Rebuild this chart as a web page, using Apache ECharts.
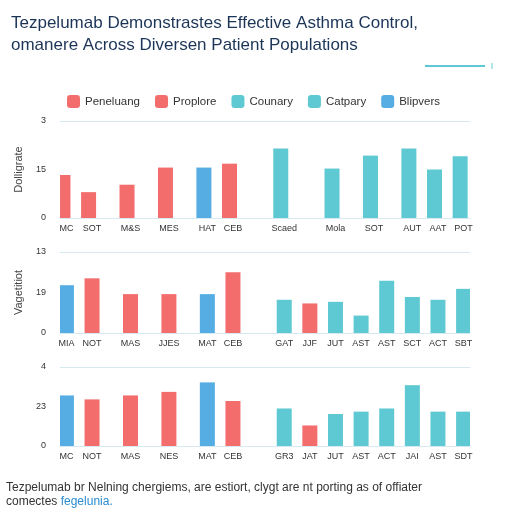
<!DOCTYPE html>
<html>
<head>
<meta charset="utf-8">
<script src="https://cdn.jsdelivr.net/npm/echarts@6/dist/echarts.min.js"></script>
<style>
  body { margin: 0; background: #fff; }
  #chart { width: 512px; height: 512px; }
</style>
</head>
<body>
<div id="chart"></div>
<script>
// half-slot positions along a 32 slot category axis
const slotCount = 32;

const top_slots = [0, 2, 5, 8, 11, 13, 17, 21, 24, 27, 29, 31];
const top_labels = ['MC', 'SOT', 'M&S', 'MES', 'HAT', 'CEB', 'Scaed', 'Mola', 'SOT', 'AUT', 'AAT', 'POT'];
const top_values = [1.33, 0.80, 1.03, 1.56, 1.56, 1.68, 2.15, 1.53, 1.93, 2.15, 1.50, 1.91];
const top_colors = ['r', 'r', 'r', 'r', 'b', 'r', 't', 't', 't', 't', 't', 't'];
const top_ticks = ['0', '15', '3'];

const mid_slots = [0, 2, 5, 8, 11, 13, 17, 19, 21, 23, 25, 27, 29, 31];
const mid_labels = ['MIA', 'NOT', 'MAS', 'JJES', 'MAT', 'CEB', 'GAT', 'JJF', 'JUT', 'AST', 'AST', 'SCT', 'ACT', 'SBT'];
const mid_values = [1.18, 1.35, 0.96, 0.96, 0.96, 1.50, 0.82, 0.73, 0.77, 0.43, 1.29, 0.89, 0.82, 1.09];
const mid_colors = ['b', 'r', 'r', 'r', 'b', 'r', 't', 'r', 't', 't', 't', 't', 't', 't'];
const mid_ticks = ['0', '19', '13'];

const bot_slots = mid_slots;
const bot_labels = ['MC', 'NOT', 'MAS', 'NES', 'MAT', 'CEB', 'GR3', 'JAT', 'JUT', 'AST', 'ACT', 'JAI', 'AST', 'SDT'];
const bot_values = [1.28, 1.18, 1.28, 1.37, 1.61, 1.14, 0.95, 0.52, 0.81, 0.87, 0.95, 1.54, 0.87, 0.87];
const bot_colors = ['b', 'r', 'r', 'r', 'b', 'r', 't', 'r', 't', 't', 't', 't', 't', 't'];
const bot_ticks = ['0', '23', '4'];

const legendNames = ['Peneluang', 'Proplore', 'Counary', 'Catpary', 'Blipvers'];
const legendColors = ['r', 'r', 't', 't', 'b'];

const palette = { r: '#f36d6d', t: '#5ec9d2', b: '#55ade4' };

function buildCats(slots, labels) {
  let cats = new Array(slotCount).fill('');
  slots.forEach((s, i) => { cats[s] = labels[i]; });
  return cats;
}
function buildData(slots, values, colors) {
  let d = new Array(slotCount).fill('-');
  slots.forEach((s, i) => {
    d[s] = { value: values[i], itemStyle: { color: palette[colors[i]] } };
  });
  return d;
}

const panels = [
  { top: 121, bottom: 512 - 218, max: 3, interval: 1.5, ticks: top_ticks, name: 'Dolligrate',
    cats: buildCats(top_slots, top_labels), data: buildData(top_slots, top_values, top_colors) },
  { top: 252, bottom: 512 - 333, max: 2, interval: 1, ticks: mid_ticks, name: 'Vagetitiot',
    cats: buildCats(mid_slots, mid_labels), data: buildData(mid_slots, mid_values, mid_colors) },
  { top: 367, bottom: 512 - 446, max: 2, interval: 1, ticks: bot_ticks, name: '',
    cats: buildCats(bot_slots, bot_labels), data: buildData(bot_slots, bot_values, bot_colors) }
];

var chart = echarts.init(document.getElementById('chart'));

let grids = [], xAxes = [], yAxes = [], series = [];
panels.forEach((p, i) => {
  grids.push({ left: 60, right: 42, top: p.top, bottom: p.bottom });
  xAxes.push({
    type: 'category', gridIndex: i, data: p.cats,
    axisTick: { show: false },
    axisLine: { lineStyle: { color: '#d6e8f0' } },
    axisLabel: { interval: 0, color: '#333', fontSize: 9, margin: 6 }
  });
  yAxes.push({
    type: 'value', gridIndex: i, min: 0, max: p.max, interval: p.interval,
    name: p.name, nameLocation: 'middle', nameGap: 36, nameRotate: 90,
    nameTextStyle: { color: '#444', fontSize: 11 },
    axisLabel: { color: '#333', fontSize: 9, margin: 14, formatter: (v) => p.ticks[Math.round(v / p.interval)] },
    splitLine: { lineStyle: { color: ['#d6e8f0', 'transparent', '#d6e8f0'] } }
  });
  series.push({
    type: 'bar', xAxisIndex: i, yAxisIndex: i, barWidth: 15,
    data: p.data
  });
});

legendNames.forEach((n, i) => {
  series.push({ type: 'bar', name: n, data: [], itemStyle: { color: palette[legendColors[i]] } });
});

var option = {
  animation: false,
  title: {
    text: 'Tezpelumab Demonstrastes Effective Asthma Control,\nomanere Across Diversen Patient Populations',
    left: 6, top: 7,
    textStyle: { color: '#1c3557', fontSize: 17, fontWeight: 'normal', lineHeight: 22 }
  },
  legend: {
    data: legendNames, top: 90, left: 62,
    itemWidth: 13, itemHeight: 13, itemGap: 15,
    textStyle: { color: '#333', fontSize: 11.5 }
  },
  graphic: [
    { type: 'line', shape: { x1: 425, y1: 66, x2: 485, y2: 66 }, style: { stroke: '#5ec9d2', lineWidth: 2 } },
    { type: 'line', shape: { x1: 492, y1: 63, x2: 492, y2: 69 }, style: { stroke: '#5ec9d2', lineWidth: 1 } },
    { type: 'text', left: 6, top: 481, style: {
      text: 'Tezpelumab br Nelning chergiems, are estiort, clygt are nt porting as of offiater\n{a|comectes} {b|fegelunia.}',
      fontSize: 12, lineHeight: 14, fill: '#333',
      rich: { a: { fontSize: 12, fill: '#333' }, b: { fontSize: 12, fill: '#2a8bd0' } }
    } }
  ],
  grid: grids,
  xAxis: xAxes,
  yAxis: yAxes,
  series: series
};

chart.setOption(option);
</script>
</body>
</html>
